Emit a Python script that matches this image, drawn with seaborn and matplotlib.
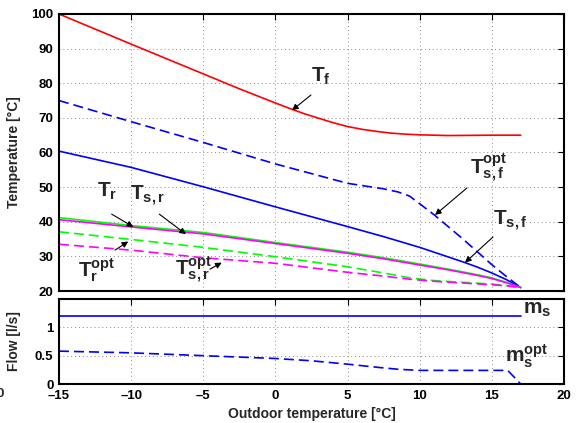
import matplotlib
matplotlib.use("Agg")
import matplotlib.pyplot as plt
import seaborn as sns
import numpy as np

# ---------------- data ----------------
x_tf = [-15, -10, -5, -2.5, 0, 1, 2, 3, 4, 5, 6, 7, 8, 9, 10, 12, 15, 17]
y_tf = [100, 91.3, 82.7, 78.4, 74.3, 72.7, 71.2, 69.9, 68.6, 67.5, 66.7, 66.1, 65.6, 65.3, 65.1, 64.9, 65.0, 65.0]

x_tsf_opt = [-15, -10, -5, 0, 5, 7.5, 8.5, 9.3, 10, 11, 12, 13, 14, 15, 16, 17]
y_tsf_opt = [75, 68.9, 62.9, 56.7, 51.1, 49.5, 48.6, 47.4, 45.2, 42.0, 38.5, 35.0, 31.3, 27.6, 24.2, 21.0]

x_tsf = [-15, -10, -5, 0, 5, 7.5, 10, 12, 13, 14, 15, 16, 17]
y_tsf = [60.4, 55.7, 50.1, 44.3, 38.6, 35.7, 32.6, 29.8, 28.4, 26.9, 25.2, 23.3, 21.0]

x_tr = [-15, -10, -5, 0, 5, 7.5, 10, 12, 13, 14, 15, 16, 17]
y_tr = [41.2, 38.9, 36.9, 34.0, 31.2, 29.6, 27.8, 26.3, 25.5, 24.7, 23.8, 22.5, 21.0]

x_tsr = [-15, -10, -5, 0, 5, 7.5, 10, 12, 13, 14, 15, 16, 17]
y_tsr = [40.6, 38.5, 36.5, 33.7, 30.9, 29.3, 27.5, 26.1, 25.3, 24.5, 23.6, 22.4, 21.0]

x_tr_opt = [-15, -10, -5, 0, 5, 7.5, 9.3, 11, 13, 15, 16, 17]
y_tr_opt = [37.1, 34.9, 32.6, 29.9, 27.0, 25.2, 23.8, 23.0, 22.5, 22.0, 21.6, 21.0]

x_tsr_opt = [-15, -10, -5, 0, 5, 7.5, 9.3, 11, 13, 15, 16, 17]
y_tsr_opt = [33.5, 31.8, 29.6, 28.0, 25.4, 24.3, 23.4, 22.8, 22.3, 21.8, 21.5, 21.0]

x_ms = [-15, 17]
y_ms = [1.2, 1.2]

x_ms_opt = [-15, -10, -5, 0, 2.5, 5, 7.25, 8.5, 10, 16.1, 17]
y_ms_opt = [0.58, 0.55, 0.50, 0.45, 0.41, 0.35, 0.29, 0.26, 0.24, 0.24, 0.0]

x_ticks = [-15, -10, -5, 0, 5, 10, 15, 20]
x_tick_labels = ["\u201315", "\u201310", "\u20135", "0", "5", "10", "15", "20"]
t_ticks = [20, 30, 40, 50, 60, 70, 80, 90, 100]
f_ticks = [0, 0.5, 1]
f_tick_labels = ["0", "0.5", "1"]

# ---------------- style ----------------
sns.set_theme(style="white")
plt.rcParams["font.family"] = ["Liberation Sans", "DejaVu Sans"]
plt.rcParams["font.weight"] = "bold"
plt.rcParams["axes.labelweight"] = "bold"
plt.rcParams["mathtext.fontset"] = "custom"
plt.rcParams["mathtext.rm"] = "Liberation Sans:bold"
plt.rcParams["mathtext.bf"] = "Liberation Sans:bold"
plt.rcParams["mathtext.it"] = "Liberation Sans:bold"
plt.rcParams["mathtext.default"] = "bf"

fig = plt.figure(figsize=(5.76, 4.23), dpi=100)
L, R = 59 / 576, 564 / 576
ax1 = fig.add_axes([L, 1 - 291 / 423, R - L, (291 - 14) / 423])
ax2 = fig.add_axes([L, 1 - 384 / 423, R - L, (384 - 299) / 423])

DASH = (0, (6, 3))
LW = 1.2
RED, BLUE, GREEN, MAG = "#ff0000", "#0000ff", "#00ff00", "#ff00ff"

def line(ax, x, y, c, ls="-"):
    sns.lineplot(x=x, y=y, ax=ax, color=c, lw=LW, linestyle=ls,
                 sort=False, estimator=None, legend=False)

line(ax1, x_tf, y_tf, RED)
line(ax1, x_tsf_opt, y_tsf_opt, BLUE, DASH)
line(ax1, x_tsf, y_tsf, BLUE)
line(ax1, x_tr, y_tr, GREEN)
line(ax1, x_tsr, y_tsr, MAG)
line(ax1, x_tr_opt, y_tr_opt, GREEN, DASH)
line(ax1, x_tsr_opt, y_tsr_opt, MAG, DASH)

line(ax2, x_ms, y_ms, BLUE)
line(ax2, x_ms_opt, y_ms_opt, BLUE, DASH)

for ax in (ax1, ax2):
    ax.set_xlim(-15, 20)
    ax.set_xticks(x_ticks)
    ax.grid(True, linestyle=(0, (1, 3)), color="#8a8a8a", lw=0.7)
    ax.tick_params(direction="in", top=True, right=True, length=4, width=0.8,
                   labelsize=9.5, pad=4, colors="black")
    for s in ax.spines.values():
        s.set_linewidth(1.5)
        s.set_color("black")

ax1.set_ylim(20, 100)
ax1.set_yticks(t_ticks)
ax1.set_yticklabels([str(t) for t in t_ticks], fontweight="bold")
ax1.set_xticklabels([])
ax1.set_xlabel("")
ax1.set_ylabel("Temperature [\u00b0C]", fontsize=10, fontweight="bold")
ax1.yaxis.set_label_coords(-0.075, 0.5)

ax2.set_ylim(0, 1.5)
ax2.set_yticks(f_ticks)
ax2.set_yticklabels(f_tick_labels, fontweight="bold")
ax2.set_xticklabels(x_tick_labels, fontweight="bold")
ax2.set_xlabel("Outdoor temperature [\u00b0C]", fontsize=10, fontweight="bold", labelpad=4)
ax2.set_ylabel("Flow [l/s]", fontsize=10, fontweight="bold")
ax2.yaxis.set_label_coords(-0.075, 0.5)

# ---------------- annotations ----------------
FS = 15
arrow = dict(arrowstyle="-|>", color="black", lw=0.8, mutation_scale=9,
             shrinkA=0, shrinkB=0)

def note(ax, label, txy, tail, head):
    ax.text(txy[0], txy[1], label, fontsize=FS, ha="left", va="baseline")
    ax.annotate("", xy=head, xytext=tail, arrowprops=arrow)

note(ax1, r"$T_f$", (2.46, 80.4), (2.46, 76.6), (1.15, 72.2))
note(ax1, r"$T_{s,f}^{opt}$", (13.48, 53.5), (13.27, 49.75), (11.06, 41.95))
note(ax1, r"$T_{s,f}$", (15.08, 39.1), (15.08, 35.6), (13.14, 28.2))
note(ax1, r"$T_r$", (-12.37, 47.2), (-11.35, 42.2), (-9.85, 38.5))
note(ax1, r"$T_{s,r}$", (-10.08, 46.3), (-8.05, 42.2), (-6.2, 36.4))
note(ax1, r"$T_r^{opt}$", (-13.68, 24.0), (-11.12, 31.8), (-10.2, 34.3))
note(ax1, r"$T_{s,r}^{opt}$", (-6.96, 24.6), (-4.54, 26.3), (-3.72, 28.2))

ax2.text(17.16, 1.246, r"$m_s$", fontsize=FS, ha="left", va="baseline")
ax2.text(15.9, 0.386, r"$m_s^{opt}$", fontsize=FS, ha="left", va="baseline")

fig.text(0.0, 1 - 397 / 423, "0", fontsize=9.5, fontweight="bold",
         ha="center", va="baseline")

fig.savefig("out.png", dpi=100)
